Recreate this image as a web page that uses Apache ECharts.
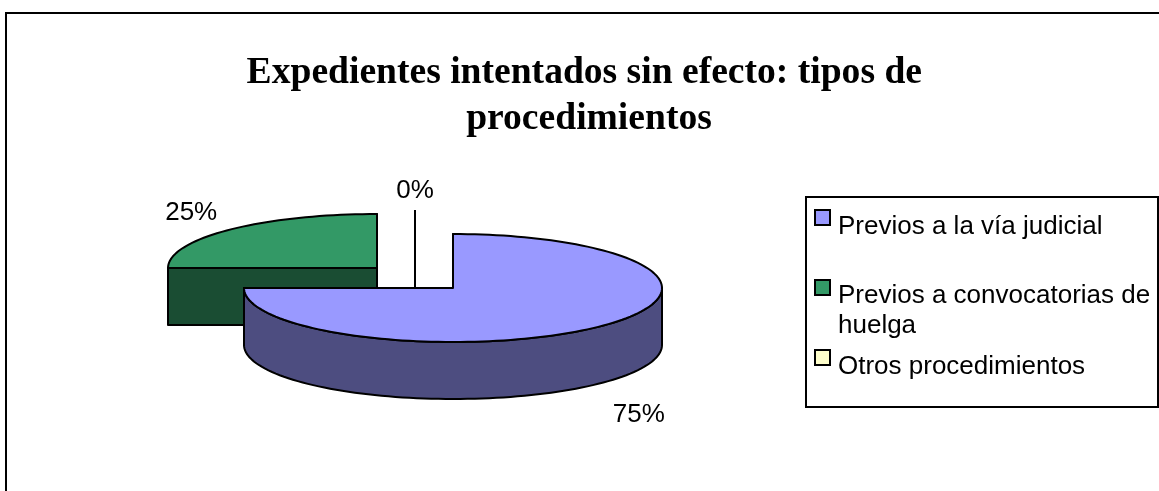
<!DOCTYPE html>
<html>
<head>
<meta charset="utf-8">
<title>Expedientes intentados sin efecto</title>
<script src="https://cdn.jsdelivr.net/npm/echarts@6/dist/echarts.min.js"></script>
<style>
  html, body { margin: 0; padding: 0; background: #fff; }
  #chart { width: 1159px; height: 491px; }
</style>
</head>
<body>
<div id="chart"></div>
<script>
var categories = ["Previos a la vía judicial", "Previos a convocatorias de\nhuelga", "Otros procedimientos"];
var values = [75, 25, 0];
var percentLabels = ["75%", "25%", "0%"];

var topColors = ["#9999ff", "#339966", "#ffffcc"];
var sideColors = ["#4d4d80", "#1a4d33", "#808066"];
// exploded offset of each slice from the pie centre, draw order, label offset
var sliceOffsets = [[0, 0], [-76, -20], [-38, 0]];
var sliceLayers = [30, 10, 20];
var labelOffsets = [[38, 32], [-38, -17], [0, -43]];
var swatchTops = [210, 280, 350];
var legendTextTops = [212, 281, 352];

var centerX = 453, centerY = 288, radiusX = 209, radiusY = 54, depth = 57;
var total = values.reduce(function (a, b) { return a + b; }, 0);

function rimPoint(cx, cy, deg, dy) {
  var rad = deg * Math.PI / 180;
  return [cx + radiusX * Math.sin(rad), cy - radiusY * Math.cos(rad) + (dy || 0)];
}

function arcPoints(cx, cy, from, to, dy) {
  var pts = [];
  var steps = Math.max(1, Math.ceil((to - from) / 2));
  for (var i = 0; i <= steps; i++) {
    pts.push(rimPoint(cx, cy, from + (to - from) * i / steps, dy));
  }
  return pts;
}

function renderSlice(params, api) {
  var i = params.dataIndex;
  var value = api.value(0);
  var before = 0;
  for (var k = 0; k < i; k++) before += values[k];
  var start = before / total * 360;
  var end = start + value / total * 360;
  var cx = centerX + sliceOffsets[i][0];
  var cy = centerY + sliceOffsets[i][1];
  var z = sliceLayers[i];
  var children = [];

  function poly(points, fill, z2) {
    children.push({
      type: "polygon",
      z2: z2,
      shape: { points: points },
      style: { fill: fill, stroke: "#000", lineWidth: 2, lineJoin: "round" }
    });
  }

  // cut walls on both radii, the top face hides them when they face away
  [start, end].forEach(function (deg) {
    var rim = rimPoint(cx, cy, deg);
    poly([[cx, cy], rim, [rim[0], rim[1] + depth], [cx, cy + depth]], sideColors[i], z);
  });

  // outer wall: only the front half of the rim shows
  var from = Math.max(start, 90), to = Math.min(end, 270);
  if (to > from) {
    poly(arcPoints(cx, cy, from, to, 0).concat(arcPoints(cx, cy, from, to, depth).reverse()), sideColors[i], z + 1);
  }

  poly([[cx, cy]].concat(arcPoints(cx, cy, start, end, 0)), topColors[i], z + 2);

  var mid = (start + end) / 2;
  var anchor = rimPoint(cx, cy, mid, mid > 90 && mid < 270 ? depth : 0);
  var lx = anchor[0] + labelOffsets[i][0];
  var ly = anchor[1] + labelOffsets[i][1];

  // empty slice: leader line up to its label
  if (value === 0) {
    children.push({
      type: "line",
      z2: z + 2,
      shape: { x1: cx, y1: cy, x2: cx, y2: ly + 19 },
      style: { stroke: "#000", lineWidth: 2 }
    });
  }

  children.push({
    type: "text",
    z2: 50,
    x: lx,
    y: ly,
    style: {
      text: percentLabels[i],
      fill: "#000",
      font: "26px 'Liberation Sans', Arial, sans-serif",
      align: "center",
      verticalAlign: "middle"
    }
  });

  return { type: "group", children: children };
}

// legend box drawn by hand: swatches sit on the first text line, entries are unevenly spaced
var legendElements = [{
  type: "rect",
  shape: { x: 806, y: 197, width: 352, height: 210 },
  style: { fill: "#fff", stroke: "#000", lineWidth: 2 }
}];
categories.forEach(function (name, i) {
  legendElements.push({
    type: "rect",
    shape: { x: 815, y: swatchTops[i], width: 15, height: 15 },
    style: { fill: topColors[i], stroke: "#000", lineWidth: 2 }
  });
  legendElements.push({
    type: "text",
    x: 838,
    y: legendTextTops[i],
    style: {
      text: name,
      lineHeight: 30,
      fill: "#000",
      font: "26px 'Liberation Sans', Arial, sans-serif"
    }
  });
});

var frame = {
  type: "polyline",
  shape: { points: [[6, 491], [6, 13], [1159, 13]] },
  style: { fill: "none", stroke: "#000", lineWidth: 2 }
};

var myChart = echarts.init(document.getElementById("chart"), null, { renderer: "canvas" });
var option = {
  animation: false,
  backgroundColor: "#fff",
  title: {
    text: "Expedientes intentados sin efecto: tipos de \nprocedimientos",
    left: 584,
    top: 45,
    textAlign: "center",
    textStyle: {
      color: "#000",
      fontFamily: "'Liberation Serif', 'Times New Roman', serif",
      fontWeight: "bold",
      fontSize: 37.6,
      lineHeight: 46
    }
  },
  graphic: { elements: [frame].concat(legendElements) },
  series: [
    {
      type: "custom",
      coordinateSystem: "none",
      renderItem: renderSlice,
      data: values.map(function (v, i) { return { name: categories[i], value: [v] }; })
    }
  ]
};
myChart.setOption(option);
</script>
</body>
</html>
